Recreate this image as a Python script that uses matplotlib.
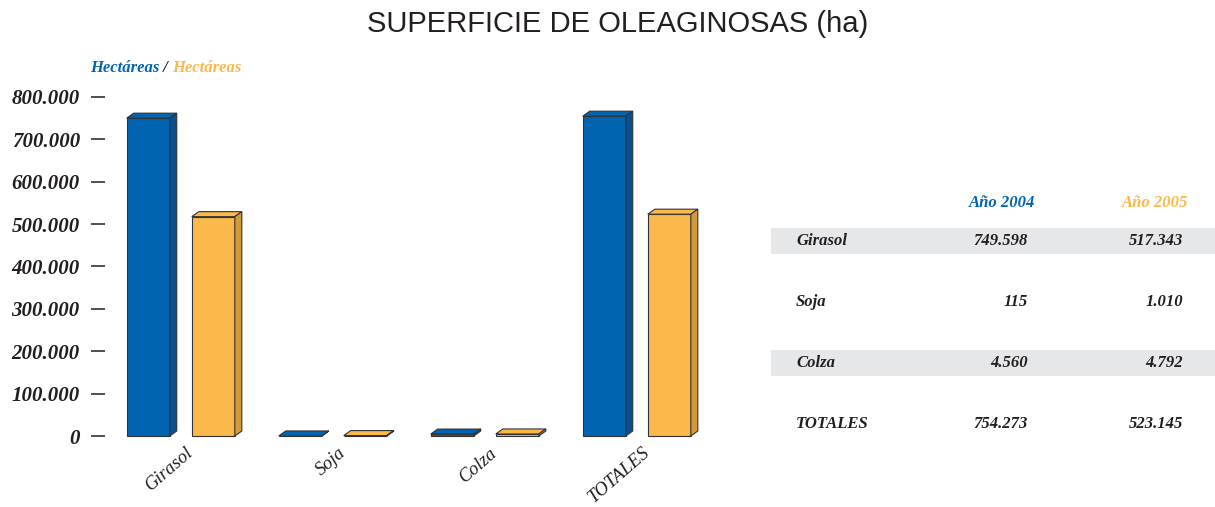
import matplotlib
matplotlib.use('Agg')
import matplotlib.pyplot as plt
from matplotlib.patches import Rectangle, Polygon
import numpy as np

# datos
categorias = ['Girasol', 'Soja', 'Colza', 'TOTALES']
ha_2004 = [749598, 115, 4560, 754273]
ha_2005 = [517343, 1010, 4792, 523145]
anios = ['Año 2004', 'Año 2005']
yticks = [0, 100000, 200000, 300000, 400000, 500000, 600000, 700000, 800000]

azul = '#0064b1'
azul_lado = '#0a4f8e'
naranja = '#fbb84b'
naranja_lado = '#d39a3c'
borde = '#333333'

W, H = 1215, 507
fig = plt.figure(figsize=(W / 100, H / 100), dpi=100)


def fx(px):
    return px / W


def fy(py):
    return 1 - py / H


def miles(v):
    return f'{v:,}'.replace(',', '.')


# ejes en pixeles
x0, x1, ytop, ybot = 91, 760, 80, 444
ax = fig.add_axes([fx(x0), fy(ybot), (x1 - x0) / W, (ybot - ytop) / H])
px_grupo = 152.0
px_100k = 42.4
cx = 181
cy = 436
ax.set_xlim((x0 - cx) / px_grupo, (x1 - cx) / px_grupo)
ax.set_ylim((cy - ybot) / px_100k * 1e5, (cy - ytop) / px_100k * 1e5)

ancho = 0.283
dx = 7 / px_grupo
dy = 5 / px_100k * 1e5


def barra3d(x, h, color, lado):
    ax.add_patch(Rectangle((x, 0), ancho, h, facecolor=color, edgecolor=borde, lw=0.8, zorder=3))
    ax.add_patch(Polygon([(x, h), (x + dx, h + dy), (x + ancho + dx, h + dy), (x + ancho, h)],
                         closed=True, facecolor=color, edgecolor=borde, lw=0.8, zorder=3))
    ax.add_patch(Polygon([(x + ancho, 0), (x + ancho + dx, dy), (x + ancho + dx, h + dy), (x + ancho, h)],
                         closed=True, facecolor=lado, edgecolor=borde, lw=0.8, zorder=3))


for i in range(len(categorias)):
    barra3d(i - 0.357, ha_2004[i], azul, azul_lado)
    barra3d(i + 0.071, ha_2005[i], naranja, naranja_lado)

for s in ax.spines.values():
    s.set_visible(False)

ax.set_yticks(yticks)
ax.set_yticklabels([miles(v) for v in yticks], family='Liberation Serif',
                   fontweight='bold', style='italic', fontsize=15, color='#231f20')
ax.tick_params(axis='y', direction='in', length=10, width=1.1, color='#231f20', pad=8)

ax.set_xticks(np.arange(len(categorias)) + 0.03)
ax.set_xticklabels(categorias, rotation=41, ha='right', rotation_mode='anchor',
                   family='Liberation Serif', style='italic', fontsize=13.5, color='#231f20')
ax.tick_params(axis='x', length=0, pad=0)

# titulos
fig.text(fx(618), fy(24), 'SUPERFICIE DE OLEAGINOSAS (ha)', ha='center', va='center',
         family='Liberation Sans', fontsize=21, color='#231f20')
t1 = fig.text(fx(90), fy(68), 'Hectáreas', ha='left', va='center', family='Liberation Serif',
              fontweight='bold', style='italic', fontsize=12, color=azul)
fig.canvas.draw()
r = fig.canvas.get_renderer()
bb = t1.get_window_extent(r)
t2 = fig.text(bb.x1 / W, fy(68), ' / ', ha='left', va='center', family='Liberation Serif',
              fontweight='bold', style='italic', fontsize=12, color='#231f20')
bb = t2.get_window_extent(r)
fig.text(bb.x1 / W, fy(68), 'Hectáreas', ha='left', va='center', family='Liberation Serif',
         fontweight='bold', style='italic', fontsize=12, color=naranja)

# tabla
gris = '#e6e7e9'
for yb in [(228, 254), (350, 376)]:
    fig.patches.append(Rectangle((fx(771), fy(yb[1])), (W - 771) / W, (yb[1] - yb[0]) / H,
                                 transform=fig.transFigure, facecolor=gris, edgecolor='none', zorder=0))

fuente = dict(family='Liberation Serif', fontweight='bold', style='italic', fontsize=12)
fig.text(fx(1035), fy(203), anios[0], ha='right', va='center', color=azul, **fuente)
fig.text(fx(1188), fy(203), anios[1], ha='right', va='center', color=naranja, **fuente)
filas_y = [241, 302, 363, 424]
for i, c in enumerate(categorias):
    fig.text(fx(796), fy(filas_y[i]), c, ha='left', va='center', color='#231f20', **fuente)
    fig.text(fx(1028), fy(filas_y[i]), miles(ha_2004[i]), ha='right', va='center', color='#231f20', **fuente)
    fig.text(fx(1183), fy(filas_y[i]), miles(ha_2005[i]), ha='right', va='center', color='#231f20', **fuente)

fig.savefig('out.png', dpi=100)
